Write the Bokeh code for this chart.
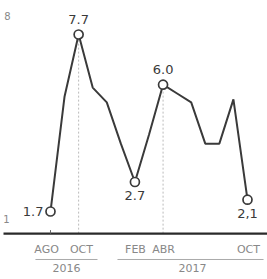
from bokeh.plotting import figure
from bokeh.models import ColumnDataSource, Range1d
from bokeh.core.properties import value
from bokeh.embed import file_html
from bokeh.resources import INLINE

# ---- data ----
months = ["AGO16", "SEP16", "OCT16", "NOV16", "DIC16", "ENE17", "FEB17", "MAR17",
          "ABR17", "MAY17", "JUN17", "JUL17", "AGO17", "SEP17", "OCT17"]
values = [1.7, 5.6, 7.7, 5.9, 5.4, 4.0, 2.7, 4.3, 6.0, 5.7, 5.4, 4.0, 4.0, 5.5, 2.1]
marked_idx = [0, 2, 6, 8, 14]
marked_labels = ["1.7", "7.7", "2.7", "6.0", "2,1"]
tick_x = [-0.28, 2.2, 6.04, 8.03, 14.07]
tick_labels = ["AGO", "OCT", "FEB", "ABR", "OCT"]
year_labels = ["2016", "2017"]
year_centers = [1.14, 10.09]
year_spans = [(-1.07, 3.34), (4.76, 15.14)]
y_ticks = [8, 1]
ref_lines = [2, 8]

x = list(range(len(months)))
FONT = value("DejaVu Sans")

p = figure(width=267, height=279, output_backend="svg", toolbar_location=None,
           min_border=0, x_range=Range1d(-3.553, 15.422), y_range=Range1d(-0.605, 8.853))
p.axis.visible = False
p.grid.visible = False
p.outline_line_color = None
p.background_fill_color = "white"
p.border_fill_color = "white"

# vertical dotted reference lines
for r in ref_lines:
    p.segment(x0=[r], y0=[0.95], x1=[r], y1=[values[r]], line_color="#bbbbbb",
              line_width=1, line_dash="2 2")

# baseline
p.segment(x0=[-3.34], y0=[0.95], x1=[15.422], y1=[0.95], line_color="#2a2a2a", line_width=2.2)
# small ticks
p.segment(x0=[0, 2], y0=[0.95], x1=[0, 2], y1=[1.07], line_color="#666666", line_width=1)

# series line
p.line(x, values, line_color="#3a3a3a", line_width=2)
mx = [x[i] for i in marked_idx]
my = [values[i] for i in marked_idx]
p.scatter(mx, my, size=9, marker="circle", fill_color="white", line_color="#3a3a3a", line_width=1.7)

# data labels
lab_src = ColumnDataSource(dict(
    x=mx, y=my, t=marked_labels,
    xo=[-7, 0, 0, 0, 0], yo=[0, -11, 9, -11, 9],
    al=["right", "center", "center", "center", "center"],
    bl=["middle", "bottom", "top", "bottom", "top"],
))
p.text(x="x", y="y", text="t", x_offset="xo", y_offset="yo", text_align="al",
       text_baseline="bl", source=lab_src, text_font=FONT, text_font_size="13px",
       text_color="#3a3a3a")

# y labels
p.text(x=[-3.06, -3.13], y=[8.34, 1.43], text=[str(v) for v in y_ticks], text_align="center",
       text_baseline="middle", text_font=FONT, text_font_size="10px", text_color="#888888")

# month labels
p.text(x=tick_x, y=[0.41] * 5, text=tick_labels, text_align="center",
       text_baseline="middle", text_font=FONT, text_font_size="11px", text_color="#888888")

# year underlines and labels
for (a, b) in year_spans:
    p.segment(x0=[a], y0=[0.073], x1=[b], y1=[0.073], line_color="#aaaaaa", line_width=1)
p.text(x=year_centers, y=[-0.23, -0.23], text=year_labels, text_align="center",
       text_baseline="middle", text_font=FONT, text_font_size="11px", text_color="#888888")

open("out.html", "w").write(file_html(p, INLINE))
